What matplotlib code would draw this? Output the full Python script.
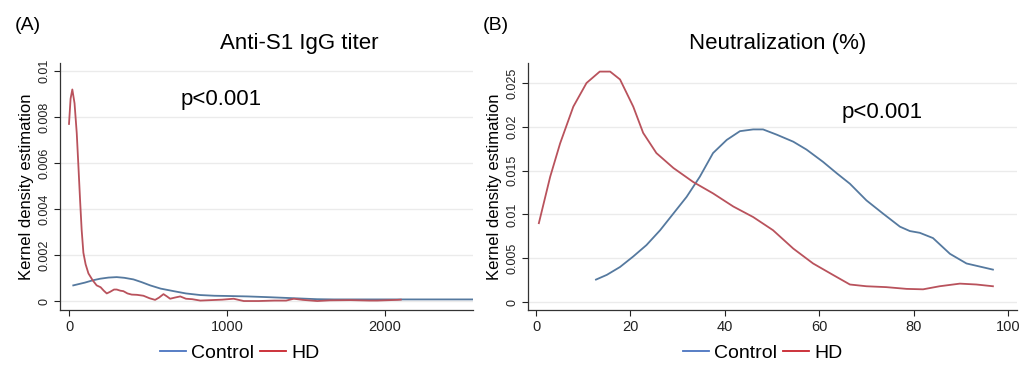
import matplotlib
matplotlib.use('Agg')
import matplotlib.pyplot as plt
from matplotlib.lines import Line2D

plt.rcParams['font.family'] = ['Liberation Sans', 'DejaVu Sans']

# Panel A: Anti-S1 IgG titer (kernel density)
igg_hd_x = [0, 10, 21, 35, 49, 60, 70, 80, 91, 105, 123, 150, 175, 200, 220, 239, 260, 285,
            302, 325, 344, 370, 397, 430, 471, 510, 545, 570, 598, 620, 640, 670, 704, 740,
            780, 831, 900, 970, 1042, 1080, 1106, 1200, 1300, 1374, 1423, 1480, 1571, 1650,
            1782, 1900, 1950, 2078, 2100]
igg_hd_y = [0.0077, 0.0088, 0.0092, 0.0086, 0.0073, 0.0058, 0.0044, 0.0031, 0.0021, 0.0016,
            0.0012, 0.0009, 0.00068, 0.0006, 0.00045, 0.00033, 0.0004, 0.0005, 0.0005,
            0.00045, 0.00043, 0.00033, 0.00028, 0.00027, 0.00023, 0.00012, 0.00005, 0.00015,
            0.0003, 0.0002, 0.0001, 0.00015, 0.0002, 0.0001, 0.00008, 0.00002, 0.00004,
            0.00006, 0.0001, 0.00004, 0.0, 0.0, 0.00002, 0.00002, 0.0001, 0.00005, 0.0,
            0.00003, 0.00004, 0.00002, 0.00002, 0.00005, 0.00006]
igg_ctrl_x = [27, 100, 150, 197, 250, 302, 350, 408, 460, 514, 580, 662, 740, 831, 920, 1000,
              1130, 1254, 1360, 1465, 1570, 1677, 2000, 2300, 2600]
igg_ctrl_y = [0.00068, 0.0008, 0.0009, 0.00097, 0.00102, 0.00104, 0.00101, 0.00094, 0.00082,
              0.00068, 0.00054, 0.00043, 0.00033, 0.00026, 0.00023, 0.00022, 0.0002, 0.00017,
              0.00014, 0.00011, 0.00008, 0.00007, 0.00007, 0.00007, 0.00007]
igg_yticks = [0, 0.002, 0.004, 0.006, 0.008, 0.01]
igg_ylabels = ['0', '0.002', '0.004', '0.006', '0.008', '0.01']
igg_xticks = [0, 1000, 2000]

# Panel B: Neutralization (%)
neu_hd_x = [0.6, 3.0, 5.1, 7.9, 10.7, 13.5, 15.7, 17.8, 20.6, 22.7, 25.5, 29.1, 33.3, 37.5,
            41.8, 46.0, 50.2, 54.5, 58.7, 62.9, 66.5, 70.0, 74.2, 78.5, 82.0, 85.5, 89.8,
            93.3, 96.8]
neu_hd_y = [0.009, 0.0143, 0.0181, 0.0223, 0.025, 0.0263, 0.0263, 0.0254, 0.0223, 0.0193,
            0.017, 0.0153, 0.0137, 0.0124, 0.0109, 0.0097, 0.0082, 0.0061, 0.0044, 0.0031,
            0.002, 0.0018, 0.0017, 0.0015, 0.00145, 0.0018, 0.0021, 0.002, 0.0018]
neu_ctrl_x = [12.7, 15.0, 17.8, 20.6, 23.4, 26.3, 29.1, 31.9, 34.7, 37.5, 40.4, 43.2, 46.0,
              48.1, 51.0, 54.5, 57.3, 60.8, 63.7, 66.5, 70.0, 73.5, 77.1, 79.2, 81.3, 84.1,
              87.7, 91.2, 96.8]
neu_ctrl_y = [0.00256, 0.0031, 0.004, 0.0052, 0.0065, 0.0082, 0.0101, 0.012, 0.0143, 0.017,
              0.0185, 0.0195, 0.0197, 0.0197, 0.0191, 0.0183, 0.0174, 0.016, 0.0147, 0.0135,
              0.0116, 0.0101, 0.0086, 0.0081, 0.0079, 0.0073, 0.0055, 0.0044, 0.0037]
neu_yticks = [0, 0.005, 0.01, 0.015, 0.02, 0.025]
neu_ylabels = ['0', '0.005', '0.01', '0.015', '0.02', '0.025']
neu_xticks = [0, 20, 40, 60, 80, 100]

blue = '#55799f'
red = '#b9525c'
W, H = 1021, 365


def fx(px):
    return px / W


def fy(py):
    return 1 - py / H


fig = plt.figure(figsize=(10.21, 3.65), dpi=100)
axA = fig.add_axes([fx(60), fy(310), fx(473 - 60), (310 - 63) / H])
axB = fig.add_axes([fx(528), fy(310), fx(1017 - 528), (310 - 63) / H])


def style(ax, yticks, ylabels, xticks):
    for s in ['top', 'right']:
        ax.spines[s].set_visible(False)
    for s in ['left', 'bottom']:
        ax.spines[s].set_color('#333333')
        ax.spines[s].set_linewidth(0.9)
    ax.set_yticks(yticks)
    ax.set_yticklabels(ylabels, rotation=90, va='center', fontsize=9, color='#222222')
    ax.set_xticks(xticks)
    ax.tick_params(axis='x', labelsize=10.5, colors='#222222', length=4, width=0.8)
    ax.tick_params(axis='y', length=4, width=0.8, colors='#222222', pad=3)
    ax.grid(axis='y', color='#ebebeb', linewidth=1.0)
    ax.set_axisbelow(True)
    ax.set_ylabel('Kernel density estimation', fontsize=12, labelpad=3)


axA.plot(igg_ctrl_x, igg_ctrl_y, color=blue, lw=1.3)
axA.plot(igg_hd_x, igg_hd_y, color=red, lw=1.3)
style(axA, igg_yticks, igg_ylabels, igg_xticks)
axA.set_xlim(-57, 2557)
axA.set_ylim(-0.00039, 0.01035)

axB.plot(neu_ctrl_x, neu_ctrl_y, color=blue, lw=1.3)
axB.plot(neu_hd_x, neu_hd_y, color=red, lw=1.3)
style(axB, neu_yticks, neu_ylabels, neu_xticks)
axB.set_xlim(-1.7, 101.9)
axB.set_ylim(-0.00091, 0.02728)

fig.text(fx(15), fy(25), '(A)', fontsize=14, va='center', ha='left')
fig.text(fx(483), fy(25), '(B)', fontsize=14, va='center', ha='left')
fig.text(fx(299), fy(44), 'Anti-S1 IgG titer', fontsize=16, ha='center', va='center')
fig.text(fx(778), fy(44), 'Neutralization (%)', fontsize=16, ha='center', va='center')
fig.text(fx(221), fy(100), 'p<0.001', fontsize=16, ha='center', va='center')
fig.text(fx(882), fy(113), 'p<0.001', fontsize=16, ha='center', va='center')

handles = [Line2D([], [], color='#4a74c0', lw=1.3), Line2D([], [], color='#c8232c', lw=1.3)]
for cx in [240, 763]:
    fig.legend(handles, ['Control', 'HD'], loc='center', bbox_to_anchor=(fx(cx), fy(353)),
               ncol=2, frameon=False, fontsize=14, handlelength=1.3, handletextpad=0.3,
               columnspacing=0.3)

fig.savefig('out.png', dpi=100)
